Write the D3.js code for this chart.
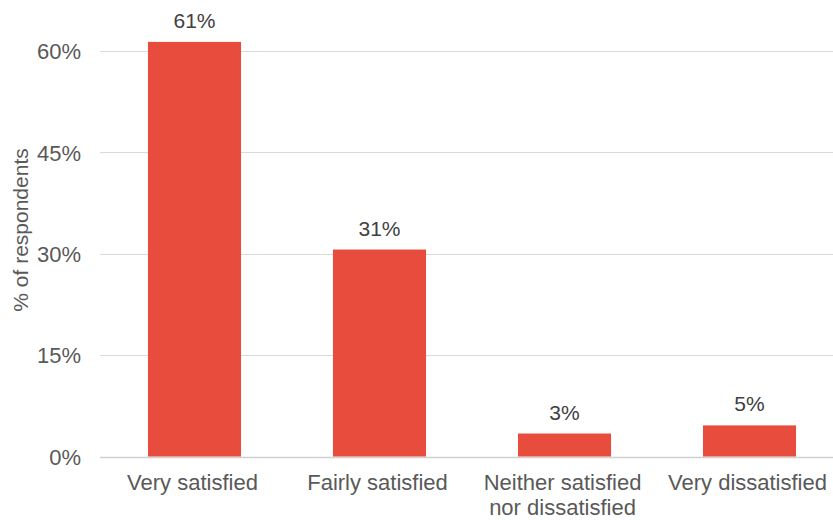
<!DOCTYPE html>
<html>
<head>
<meta charset="utf-8">
<script src="https://cdn.jsdelivr.net/npm/d3@7/dist/d3.min.js"></script>
<style>
  html, body { margin: 0; padding: 0; background: #fff; }
  svg { display: block; font-family: "Liberation Sans", Arial, sans-serif; }
</style>
</head>
<body>
<svg id="chart" width="833" height="520"></svg>
<script>
// Satisfaction survey: share of respondents per answer
const categories = ["Very satisfied", "Fairly satisfied", "Neither satisfied\nnor dissatisfied", "Very dissatisfied"];
const values = [61.3, 30.6, 3.4, 4.6];
const yTicks = [0, 15, 30, 45, 60];

const svg = d3.select("#chart");
const W = 833, H = 520;

const x = d3.scaleBand()
  .domain(categories)
  .range([102, 842])
  .paddingInner(0.497)
  .paddingOuter(0.2485);

const y = d3.scaleLinear()
  .domain([0, 60])
  .range([456.5, 50.7]);

// horizontal gridlines
svg.append("g")
  .selectAll("line")
  .data(yTicks)
  .join("line")
  .attr("x1", 100)
  .attr("x2", W)
  .attr("y1", d => Math.round(y(d)) + 0.5)
  .attr("y2", d => Math.round(y(d)) + 0.5)
  .attr("stroke", d => d === 0 ? "#d0d0d0" : "#d9d9d9")
  .attr("stroke-width", d => d === 0 ? 1.5 : 1);

// y axis tick labels
const yAxis = d3.axisLeft(y)
  .tickValues(yTicks)
  .tickFormat(d => d + "%")
  .tickSize(0)
  .tickPadding(0);

svg.append("g")
  .attr("transform", "translate(81,0)")
  .call(yAxis)
  .call(g => g.select(".domain").remove())
  .call(g => g.selectAll("text")
    .attr("font-size", 22)
    .attr("font-family", "'Liberation Sans', Arial, sans-serif")
    .attr("fill", "#595959")
    .attr("dy", "0.36em"));

// y axis title
svg.append("text")
  .attr("transform", "translate(28,230) rotate(-90)")
  .attr("text-anchor", "middle")
  .attr("font-size", 21)
  .attr("fill", "#595959")
  .text("% of respondents");

// bars
svg.append("g")
  .selectAll("rect")
  .data(values)
  .join("rect")
  .attr("x", (d, i) => x(categories[i]))
  .attr("width", x.bandwidth())
  .attr("y", d => y(d))
  .attr("height", d => y(0) - y(d))
  .attr("fill", "#E84C3D");

// value labels
svg.append("g")
  .selectAll("text")
  .data(values)
  .join("text")
  .attr("x", (d, i) => x(categories[i]) + x.bandwidth() / 2)
  .attr("y", d => y(d) - 14)
  .attr("text-anchor", "middle")
  .attr("font-size", 21)
  .attr("fill", "#404040")
  .text(d => Math.round(d) + "%");

// category labels, one text element per line
const lines = categories.flatMap(c =>
  c.split("\n").map((line, k) => ({ cat: c, line, k })));

svg.append("g")
  .selectAll("text")
  .data(lines)
  .join("text")
  .attr("x", d => x(d.cat) + x.bandwidth() / 2 - 2)
  .attr("y", d => 490 + d.k * 25)
  .attr("text-anchor", "middle")
  .attr("font-size", 22)
  .attr("fill", "#595959")
  .text(d => d.line);
</script>
</body>
</html>
